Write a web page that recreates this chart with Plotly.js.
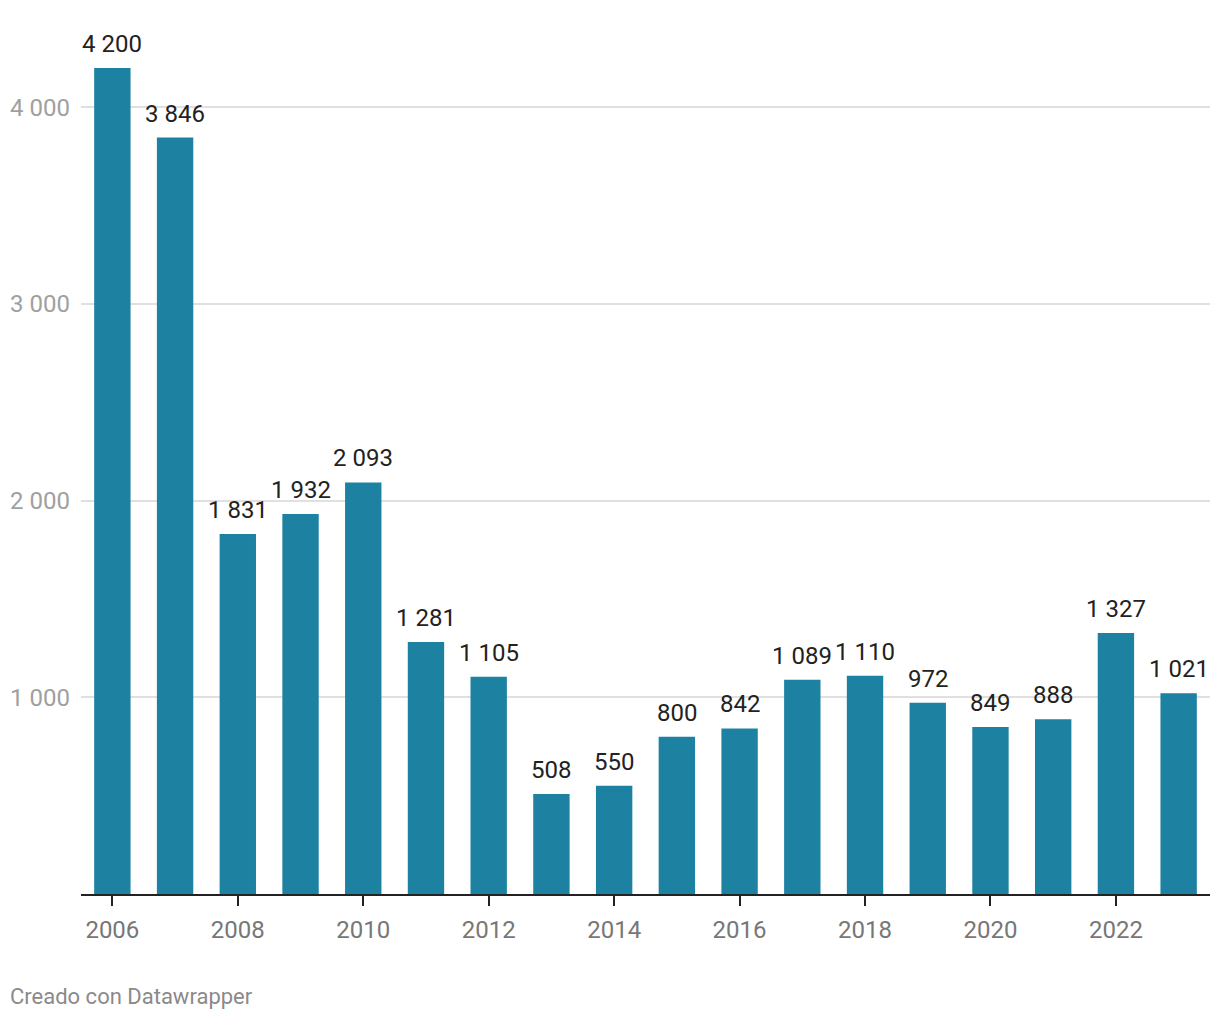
<!DOCTYPE html>
<html>
<head>
<meta charset="utf-8">
<script src="https://cdn.plot.ly/plotly-3.0.1.min.js"></script>
<style>
html,body{margin:0;padding:0;background:#fff;}
#chart{width:1220px;height:1020px;}
</style>
</head>
<body>
<div id="chart"></div>
<script>
const years = [2006,2007,2008,2009,2010,2011,2012,2013,2014,2015,2016,2017,2018,2019,2020,2021,2022,2023];
const values = [4200,3846,1831,1932,2093,1281,1105,508,550,800,842,1089,1110,972,849,888,1327,1021];
const xTickVals = [2006,2008,2010,2012,2014,2016,2018,2020,2022];
const yTickVals = [1000,2000,3000,4000];
const creditText = "Creado con Datawrapper";

const FONT = "Roboto, 'Noto Sans', sans-serif";
const fmt = v => String(v).replace(/\B(?=(\d{3})+(?!\d))/g, "\u00a0");

const trace = {
  type: "bar",
  x: years,
  y: values,
  marker: {color: "#1d81a2"},
  hoverinfo: "x+y"
};

const annotations = years.map((yr, i) => ({
  x: yr, y: values[i], xref: "x", yref: "y",
  text: fmt(values[i]),
  showarrow: false,
  yanchor: "bottom",
  yshift: 8,
  font: {family: FONT, size: 24, color: "#222"}
}));

annotations.push({
  xref: "paper", yref: "paper",
  x: -73/1129, y: -102/826,
  xanchor: "left", yanchor: "middle",
  text: creditText, showarrow: false,
  font: {family: FONT, size: 22, color: "#8a8a8a"}
});

const layout = {
  width: 1220, height: 1020,
  margin: {l: 81, r: 10, t: 68, b: 126, pad: 0},
  paper_bgcolor: "#fff", plot_bgcolor: "#fff",
  separators: ", ",
  showlegend: false,
  bargap: 0.42,
  font: {family: FONT},
  xaxis: {
    range: [2005.5, 2023.5],
    tickmode: "array", tickvals: xTickVals,
    ticks: "outside", ticklen: 10, tickwidth: 2, tickcolor: "#222",
    showline: true, linecolor: "#222", linewidth: 2,
    showgrid: false, zeroline: false,
    ticklabelstandoff: 3,
    tickfont: {family: FONT, size: 24, color: "#777"}
  },
  yaxis: {
    range: [0, 4200],
    tickmode: "array", tickvals: yTickVals,
    tickformat: ",d",
    ticks: "", showline: false, zeroline: false,
    showgrid: true, gridcolor: "#e0e0e0", gridwidth: 2,
    ticklabelstandoff: 10,
    tickfont: {family: FONT, size: 24, color: "#a0a0a0"}
  },
  annotations: annotations
};

Plotly.newPlot("chart", [trace], layout, {displayModeBar: false, staticPlot: true});
</script>
</body>
</html>
